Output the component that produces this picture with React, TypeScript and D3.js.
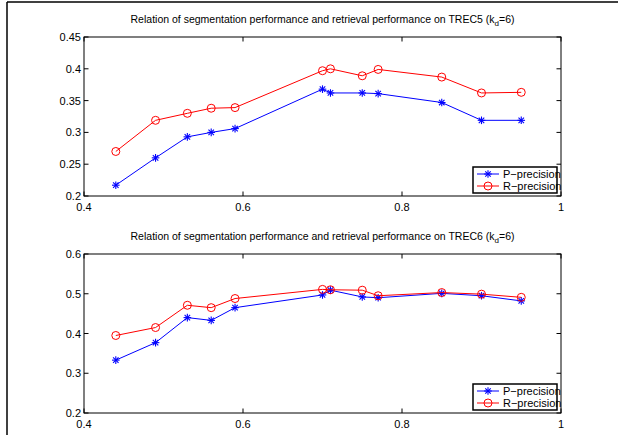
import React from "react";
import * as d3 from "d3";

const xValues = [0.44, 0.49, 0.53, 0.56, 0.59, 0.70, 0.71, 0.75, 0.77, 0.85, 0.90, 0.95];
const trec5P = [0.217, 0.260, 0.293, 0.300, 0.306, 0.368, 0.362, 0.362, 0.361, 0.347, 0.319, 0.319];
const trec5R = [0.270, 0.319, 0.330, 0.338, 0.339, 0.397, 0.400, 0.389, 0.399, 0.387, 0.362, 0.363];
const trec6P = [0.333, 0.377, 0.440, 0.433, 0.465, 0.497, 0.509, 0.492, 0.490, 0.501, 0.495, 0.482];
const trec6R = [0.395, 0.415, 0.471, 0.465, 0.488, 0.511, 0.510, 0.509, 0.495, 0.503, 0.499, 0.491];
const xTicks = [0.4, 0.6, 0.8, 1];
const yTicks5 = [0.2, 0.25, 0.3, 0.35, 0.4, 0.45];
const yTicks6 = [0.2, 0.3, 0.4, 0.5, 0.6];
const seriesNames = ["P\u2212precision", "R\u2212precision"];
const titles = ["TREC5", "TREC6"];

const FONT = "'Liberation Sans', Arial, Helvetica, sans-serif";
const X0 = 84, X1 = 561;

function Star({ x, y, color }: { x: number; y: number; color: string }) {
  const r = 3.8;
  const d = r * 0.72;
  return (
    <g stroke={color} strokeWidth={1.1}>
      <line x1={x - r} y1={y} x2={x + r} y2={y} />
      <line x1={x} y1={y - r} x2={x} y2={y + r} />
      <line x1={x - d} y1={y - d} x2={x + d} y2={y + d} />
      <line x1={x - d} y1={y + d} x2={x + d} y2={y - d} />
    </g>
  );
}

function Panel({ top, bottom, yDomain, yTicks, p, r, name }: any) {
  const x = d3.scaleLinear().domain([0.4, 1]).range([X0, X1]);
  const y = d3.scaleLinear().domain(yDomain).range([bottom, top]);
  const line = d3.line<number>().x((_, i) => x(xValues[i])).y((v) => y(v));
  const tl = 4.5;
  const fmt = (v: number) => String(+v.toFixed(2));
  const lx = 473, ly = bottom - 29, lw = 84, lh = 26;
  return (
    <g>
      <text x={(X0 + X1) / 2} y={top - 14} textAnchor="middle" fontSize={10.5} fontFamily={FONT}>
        Relation of segmentation performance and retrieval performance on {name} (k
        <tspan fontSize={8} dy={3}>d</tspan>
        <tspan dy={-3}>=6)</tspan>
      </text>
      <rect x={X0} y={top} width={X1 - X0} height={bottom - top} fill="white" stroke="black" strokeWidth={1} />
      {xTicks.map((t) => (
        <g key={"x" + t}>
          <line x1={x(t)} x2={x(t)} y1={bottom} y2={bottom - tl} stroke="black" />
          <line x1={x(t)} x2={x(t)} y1={top} y2={top + tl} stroke="black" />
          <text x={x(t)} y={bottom + 15} textAnchor="middle" fontSize={11} fontFamily={FONT}>{fmt(t)}</text>
        </g>
      ))}
      {yTicks.map((t: number) => (
        <g key={"y" + t}>
          <line x1={X0} x2={X0 + tl} y1={y(t)} y2={y(t)} stroke="black" />
          <line x1={X1} x2={X1 - tl} y1={y(t)} y2={y(t)} stroke="black" />
          <text x={X0 - 3} y={y(t) + 4} textAnchor="end" fontSize={11} fontFamily={FONT}>{fmt(t)}</text>
        </g>
      ))}
      <path d={line(p) || ""} fill="none" stroke="#0000ff" strokeWidth={1} />
      {p.map((v: number, i: number) => <Star key={"p" + i} x={x(xValues[i])} y={y(v)} color="#0000ff" />)}
      <path d={line(r) || ""} fill="none" stroke="#ff0000" strokeWidth={1} />
      {r.map((v: number, i: number) => (
        <circle key={"r" + i} cx={x(xValues[i])} cy={y(v)} r={4} fill="none" stroke="#ff0000" strokeWidth={1} />
      ))}
      <rect x={lx} y={ly} width={lw} height={lh} fill="white" stroke="black" strokeWidth={1.5} />
      <line x1={lx + 4} x2={lx + 26} y1={ly + 7} y2={ly + 7} stroke="#0000ff" />
      <Star x={lx + 15} y={ly + 7} color="#0000ff" />
      <text x={lx + 30} y={ly + 11} fontSize={11} fontFamily={FONT}>{seriesNames[0]}</text>
      <line x1={lx + 4} x2={lx + 26} y1={ly + 19} y2={ly + 19} stroke="#ff0000" />
      <circle cx={lx + 15} cy={ly + 19} r={4} fill="none" stroke="#ff0000" />
      <text x={lx + 30} y={ly + 23} fontSize={11} fontFamily={FONT}>{seriesNames[1]}</text>
    </g>
  );
}

export default function App() {
  return (
    <svg width={618} height={435} style={{ position: "absolute", left: 0, top: 0, background: "white" }}>
      <rect x={0} y={0} width={618} height={435} fill="white" />
      <line x1={7} x2={618} y1={2} y2={2} stroke="black" strokeWidth={1.5} />
      <line x1={7} x2={7} y1={2} y2={435} stroke="black" strokeWidth={1.5} />
      <Panel top={37} bottom={196} yDomain={[0.2, 0.45]} yTicks={yTicks5} p={trec5P} r={trec5R} name={titles[0]} />
      <Panel top={254} bottom={413} yDomain={[0.2, 0.6]} yTicks={yTicks6} p={trec6P} r={trec6R} name={titles[1]} />
    </svg>
  );
}
